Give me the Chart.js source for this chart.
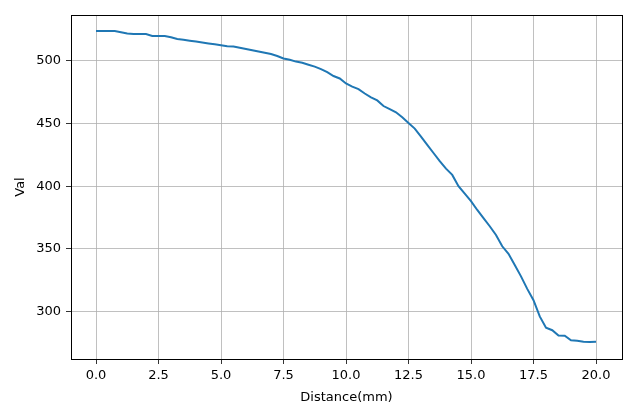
<!DOCTYPE html>
<html>
<head>
<meta charset="utf-8">
<script src="https://cdn.jsdelivr.net/npm/chart.js@4"></script>
<style>
  html, body { margin: 0; padding: 0; background: #fff; }
  #wrap { width: 640px; height: 409px; }
</style>
</head>
<body>
<div id="wrap"><canvas id="chart" width="640" height="409"></canvas></div>
<script>
const distance = [
  0, 0.25, 0.5, 0.75, 1, 1.25, 1.5, 1.75, 2, 2.25, 2.5, 2.75, 3, 3.25, 3.5, 3.75,
  4, 4.25, 4.5, 4.75, 5, 5.25, 5.5, 5.75, 6, 6.25, 6.5, 6.75, 7, 7.25, 7.5, 7.75,
  8, 8.25, 8.5, 8.75, 9, 9.25, 9.5, 9.75, 10, 10.25, 10.5, 10.75, 11, 11.25, 11.5, 11.75,
  12, 12.25, 12.5, 12.75, 13, 13.25, 13.5, 13.75, 14, 14.25, 14.5, 14.75, 15, 15.25, 15.5, 15.75,
  16, 16.25, 16.5, 16.75, 17, 17.25, 17.5, 17.75, 18, 18.25, 18.5, 18.75, 19, 19.25, 19.5, 19.75, 20
];
const val = [
  524, 524, 524, 524, 523, 522, 521.5, 521.5, 521.5, 520, 520, 520, 519, 517.6, 517, 516.2,
  515.5, 514.8, 514, 513.3, 512.5, 511.8, 511.5, 510.5, 509.5, 508.5, 507.5, 506.5, 505.5, 504, 502, 501,
  499.5, 498.5, 497, 495.5, 493.5, 491, 488, 486, 482, 479.5, 477.5, 474, 471, 468.5, 464, 461.5,
  459, 455, 450.5, 446, 439.5, 433, 426.5, 420, 414, 409, 400, 394, 388, 381, 374.5, 368,
  361, 352, 346, 337, 328, 318, 309, 296, 287, 285, 280.8, 280.6, 277, 276.6, 275.8, 275.5, 275.8
];
const xTicks = [0, 2.5, 5, 7.5, 10, 12.5, 15, 17.5, 20];
const yTicks = [300, 350, 400, 450, 500];

const font = { family: 'DejaVu Sans', size: 13 };

const frame = {
  id: 'frame',
  afterDraw(chart) {
    const { ctx, chartArea: a } = chart;
    ctx.save();
    ctx.strokeStyle = '#000';
    ctx.lineWidth = 1;
    ctx.strokeRect(Math.round(a.left) + 0.5, Math.round(a.top) + 0.5,
      Math.round(a.right - a.left), Math.round(a.bottom - a.top));
    ctx.restore();
  }
};

new Chart(document.getElementById('chart'), {
  type: 'line',
  data: {
    datasets: [{
      data: distance.map((d, i) => ({ x: d, y: val[i] })),
      borderColor: '#1f77b4',
      borderWidth: 2,
      pointRadius: 0,
      fill: false,
      tension: 0,
    }],
  },
  options: {
    responsive: false,
    animation: false,
    events: [],
    layout: { padding: { top: 15, right: 18, left: 0, bottom: 0 } },
    plugins: { legend: { display: false }, tooltip: { enabled: false } },
    scales: {
      x: {
        type: 'linear',
        min: -1,
        max: 21.04,
        afterBuildTicks: s => { s.ticks = xTicks.map(v => ({ value: v })); },
        afterFit: s => { s.height = 50; },
        ticks: {
          color: '#000', font, padding: 4, maxRotation: 0,
          callback: v => v.toFixed(1),
        },
        grid: { color: '#b0b0b0', lineWidth: 0.8, tickColor: '#000', tickLength: 5 },
        border: { display: false },
        title: { display: true, text: 'Distance(mm)', color: '#000', font, padding: { top: 0, bottom: 4 } },
      },
      y: {
        min: 262,
        max: 536.7,
        afterBuildTicks: s => { s.ticks = yTicks.map(v => ({ value: v })); },
        afterFit: s => { s.width = 71; },
        ticks: { color: '#000', font, padding: 5 },
        grid: { color: '#b0b0b0', lineWidth: 0.8, tickColor: '#000', tickLength: 5 },
        border: { display: false },
        title: { display: true, text: 'Val', color: '#000', font, padding: { top: 13, bottom: 0 } },
      },
    },
  },
  plugins: [frame],
});
</script>
</body>
</html>
